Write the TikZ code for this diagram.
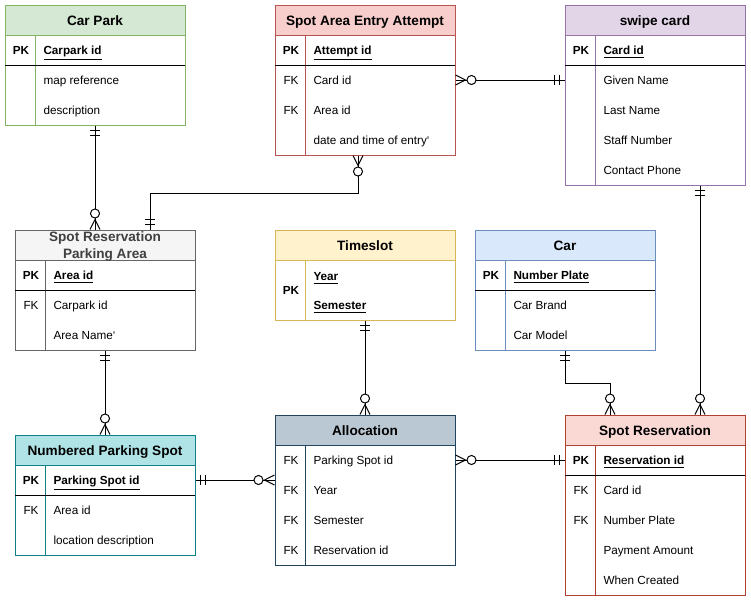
\documentclass[tikz,border=0pt]{standalone}
\usepackage{fontspec}
\setmainfont{Liberation Sans}
\usetikzlibrary{calc,fit}
\definecolor{cpF}{HTML}{D5E8D4}\definecolor{cpB}{HTML}{82B366}
\definecolor{saF}{HTML}{F8CECC}\definecolor{saB}{HTML}{B85450}
\definecolor{swF}{HTML}{E1D5E7}\definecolor{swB}{HTML}{9673A6}
\definecolor{paF}{HTML}{F5F5F5}\definecolor{paB}{HTML}{666666}
\definecolor{tsF}{HTML}{FFF2CC}\definecolor{tsB}{HTML}{D6B656}
\definecolor{caF}{HTML}{DAE8FC}\definecolor{caB}{HTML}{6C8EBF}
\definecolor{npF}{HTML}{B0E3E6}\definecolor{npB}{HTML}{0E8088}
\definecolor{alF}{HTML}{BAC8D3}\definecolor{alB}{HTML}{23445D}
\definecolor{srF}{HTML}{FAD9D5}\definecolor{srB}{HTML}{AE4132}
% #1 name, #2 x, #3 y, #4 bottom, #5 fill, #6 border, #7 title
\newcommand\erentity[7]{%
  \fill[#5] (#2,#3) rectangle (#2+180,#3+30);
  \draw[#6] (#2,#3+30) -- (#2+180,#3+30);
  \draw[#6] (#2+30,#3+30) -- (#2+30,#4);
  \node[fit={(#2,#3) (#2+180,#4)}, inner sep=0pt, draw=#6] (#1) {};
  \node[titletext, anchor=base] at (#2+90,#3+20) {#7};
}
% #1 x, #2 row centre y, #3 key, #4 text
\newcommand\attrow[4]{%
  \node[keytext, anchor=base] at (#1+16,#2+4.8) {#3};
  \node[attrtext, anchor=base west] at (#1+38,#2+4.8) {#4};
}
\newcommand\pksep[2]{\draw[black] (#1,#2) -- (#1+180,#2);}
\newcommand\bktick{\symbol{96}}
% marker: #1 coordinate, #2 #3 direction away from entity
\newcommand\mandone[3]{%
  \draw[conn] ($(#1)+({5*#2+5*#3},{5*#3+5*#2})$) -- ($(#1)+({5*#2-5*#3},{5*#3-5*#2})$);
  \draw[conn] ($(#1)+({10*#2+5*#3},{10*#3+5*#2})$) -- ($(#1)+({10*#2-5*#3},{10*#3-5*#2})$);
}
\newcommand\zeromany[3]{%
  \draw[conn] ($(#1)+({10*#2},{10*#3})$) -- ($(#1)+({5*#3},{5*#2})$);
  \draw[conn] ($(#1)+({10*#2},{10*#3})$) -- ($(#1)+({-5*#3},{-5*#2})$);
  \draw[conn, fill=white] ($(#1)+({16*#2},{16*#3})$) circle[radius=3.4pt];
}
\begin{document}
\begin{tikzpicture}[x=0.75pt,y=-0.75pt, line width=0.75pt,
  titletext/.style={font=\fontsize{10.2}{12.75}\selectfont\bfseries, inner sep=0pt, align=center},
  attrtext/.style={font=\fontsize{8.8}{11}\selectfont, inner sep=0pt},
  keytext/.style={font=\fontsize{8.8}{11}\selectfont, inner sep=0pt},
  conn/.style={draw=black, line width=0.75pt}]
\useasboundingbox[fill=white] (0,0) rectangle (751,601);

% Car Park
\erentity{carpark}{5}{5}{125}{cpF}{cpB}{Car Park}
\pksep{5}{65}
\attrow{5}{50}{\textbf{PK}}{\textbf{\underline{Carpark id}}}
\attrow{5}{80}{}{map reference}
\attrow{5}{110}{}{description}

% Spot Area Entry Attempt
\erentity{saea}{275}{5}{155}{saF}{saB}{Spot Area Entry Attempt}
\pksep{275}{65}
\attrow{275}{50}{\textbf{PK}}{\textbf{\underline{Attempt id}}}
\attrow{275}{80}{FK}{Card id}
\attrow{275}{110}{FK}{Area id}
\attrow{275}{140}{}{date and time of entry\bktick}

% swipe card
\erentity{swipe}{565}{5}{185}{swF}{swB}{swipe card}
\pksep{565}{65}
\attrow{565}{50}{\textbf{PK}}{\textbf{\underline{Card id}}}
\attrow{565}{80}{}{Given Name}
\attrow{565}{110}{}{Last Name}
\attrow{565}{140}{}{Staff Number}
\attrow{565}{170}{}{Contact Phone}

% Spot Reservation Parking Area
\erentity{srpa}{15}{230}{350}{paF}{paB}{}
\node[titletext, text=black!75] at (105,246.5) {Spot Reservation\\Parking Area};
\pksep{15}{290}
\attrow{15}{275}{\textbf{PK}}{\textbf{\underline{Area id}}}
\attrow{15}{305}{FK}{Carpark id}
\attrow{15}{335}{}{Area Name\bktick}

% Timeslot
\erentity{timeslot}{275}{230}{320}{tsF}{tsB}{Timeslot}
\attrow{275}{290}{\textbf{PK}}{}
\attrow{275}{276}{}{\textbf{\underline{Year}}}
\attrow{275}{305}{}{\textbf{\underline{Semester}}}

% Car
\erentity{car}{475}{230}{350}{caF}{caB}{Car}
\pksep{475}{290}
\attrow{475}{275}{\textbf{PK}}{\textbf{\underline{Number Plate}}}
\attrow{475}{305}{}{Car Brand}
\attrow{475}{335}{}{Car Model}

% Numbered Parking Spot
\erentity{nps}{15}{435}{555}{npF}{npB}{Numbered Parking Spot}
\pksep{15}{495}
\attrow{15}{480}{\textbf{PK}}{\textbf{\underline{Parking Spot id}}}
\attrow{15}{510}{FK}{Area id}
\attrow{15}{540}{}{location description}

% Allocation
\erentity{alloc}{275}{415}{565}{alF}{alB}{Allocation}
\attrow{275}{460}{FK}{Parking Spot id}
\attrow{275}{490}{FK}{Year}
\attrow{275}{520}{FK}{Semester}
\attrow{275}{550}{FK}{Reservation id}

% Spot Reservation
\erentity{spotres}{565}{415}{595}{srF}{srB}{Spot Reservation}
\pksep{565}{475}
\attrow{565}{460}{\textbf{PK}}{\textbf{\underline{Reservation id}}}
\attrow{565}{490}{FK}{Card id}
\attrow{565}{520}{FK}{Number Plate}
\attrow{565}{550}{}{Payment Amount}
\attrow{565}{580}{}{When Created}

% Connectors
\coordinate (a1) at (carpark.south);
\coordinate (a2) at (carpark.south |- srpa.north);
\draw[conn] (a1) -- (a2);
\mandone{a1}{0}{1}\zeromany{a2}{0}{-1}

\coordinate (b1) at ([xshift=-5.25pt]saea.south);
\coordinate (b2) at ([xshift=33.75pt]srpa.north);
\draw[conn] (b1) -- ($(b1)+(0,38)$) -| (b2);
\zeromany{b1}{0}{1}\mandone{b2}{0}{-1}

\coordinate (c1) at (saea.east);
\coordinate (c2) at (saea.east -| swipe.west);
\draw[conn] (c1) -- (c2);
\zeromany{c1}{1}{0}\mandone{c2}{-1}{0}

\coordinate (d1) at ([xshift=33.75pt]swipe.south);
\coordinate (d2) at (d1 |- spotres.north);
\draw[conn] (d1) -- (d2);
\mandone{d1}{0}{1}\zeromany{d2}{0}{-1}

\coordinate (e1) at (srpa.south);
\coordinate (e2) at (nps.north);
\draw[conn] (e1) -- (e2);
\mandone{e1}{0}{1}\zeromany{e2}{0}{-1}

\coordinate (f1) at ([yshift=11.25pt]nps.east);
\coordinate (f2) at (f1 -| alloc.west);
\draw[conn] (f1) -- (f2);
\mandone{f1}{1}{0}\zeromany{f2}{-1}{0}

\coordinate (g1) at (timeslot.south);
\coordinate (g2) at (alloc.north);
\draw[conn] (g1) -- (g2);
\mandone{g1}{0}{1}\zeromany{g2}{0}{-1}

\coordinate (h1) at ([yshift=22.5pt]alloc.east);
\coordinate (h2) at (h1 -| spotres.west);
\draw[conn] (h1) -- (h2);
\zeromany{h1}{1}{0}\mandone{h2}{-1}{0}

\coordinate (i1) at (car.south);
\coordinate (i2) at ([xshift=-33.75pt]spotres.north);
\draw[conn] (i1) -- ($(i1)+(0,33)$) -| (i2);
\mandone{i1}{0}{1}\zeromany{i2}{0}{-1}
\end{tikzpicture}
\end{document}
